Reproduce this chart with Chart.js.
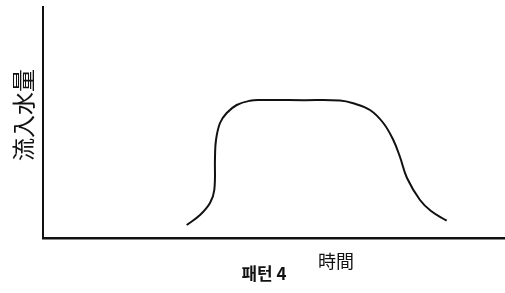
<!DOCTYPE html>
<html>
<head>
<meta charset="utf-8">
<script src="https://cdn.jsdelivr.net/npm/chart.js@4"></script>
<style>
  html,body{margin:0;padding:0;background:#fff;}
  #wrap{width:505px;height:293px;position:relative;}
</style>
</head>
<body>
<div id="wrap"><canvas id="c"></canvas></div>
<script>
// time axis (arbitrary units) and inflow values
const times  = [143.7, 157, 167, 171.3, 172, 173, 177, 183.7, 193.7, 207, 217, 260, 297, 310.3, 327, 340.3, 350.3, 357, 364, 377, 388, 403.7];
const inflow = [13, 23, 35, 48, 81, 98, 115, 125, 133, 137.3, 138, 137.8, 137.5, 134.7, 128, 115, 98, 81, 60, 38, 27, 17.3];
const yTitle = "流入水量";
const xTitle = "時間";
const caption = "패턴 4";

const labelsPlugin = {
  id: "labels",
  afterDraw(chart){
    const ctx = chart.ctx;
    ctx.save();
    ctx.fillStyle = "#111";
    ctx.textAlign = "center";
    ctx.textBaseline = "middle";
    // vertical y title
    ctx.save();
    ctx.translate(23, 115);
    ctx.rotate(-Math.PI/2);
    ctx.font = "23px 'Noto Sans CJK JP'";
    ctx.fillText(yTitle, 0, 0);
    ctx.restore();
    ctx.font = "18px 'Noto Sans CJK JP'";
    ctx.fillText(xTitle, 336, 261);
    ctx.font = "bold 17px 'Noto Sans CJK KR'";
    ctx.fillText(caption, 264, 274);
    ctx.restore();
  }
};

new Chart(document.getElementById("c"), {
  type: "line",
  data: { datasets: [{ data: times.map((t,i)=>({x:t, y:inflow[i]})), borderColor:"#111", borderWidth:2, pointRadius:0, tension:0.4, fill:false }] },
  options: {
    responsive:true, maintainAspectRatio:false, animation:false,
    layout:{ padding:{ left:43, top:7, right:0, bottom:55 } },
    plugins:{ legend:{display:false}, tooltip:{enabled:false} },
    scales:{
      x:{ type:"linear", min:0, max:462, ticks:{display:false}, grid:{display:false, drawTicks:false}, border:{color:"#111", width:2.5},
          afterFit(s){ s.height = 0; } },
      y:{ min:0, max:231, ticks:{display:false}, grid:{display:false, drawTicks:false}, border:{color:"#111", width:2},
          afterFit(s){ s.width = 0; } }
    }
  },
  plugins:[labelsPlugin]
});
</script>
</body>
</html>
